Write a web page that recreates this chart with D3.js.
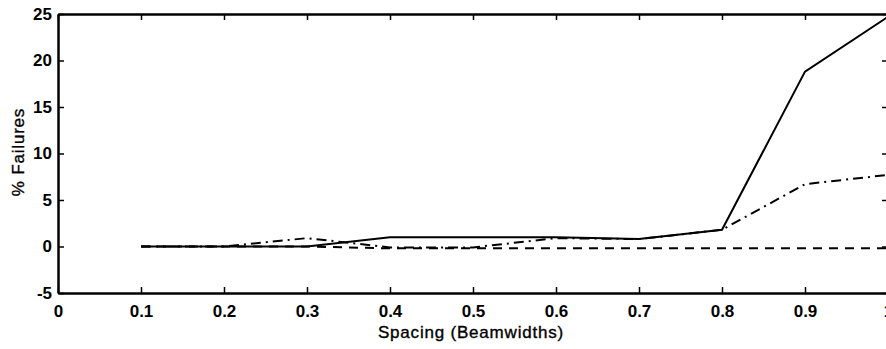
<!DOCTYPE html>
<html>
<head>
<meta charset="utf-8">
<script src="https://cdn.jsdelivr.net/npm/d3@7"></script>
<style>
  body { margin: 0; background: #fff; }
  svg { display: block; }
  .tick text { font-family: "Liberation Sans", Arial, sans-serif; font-weight: bold; font-size: 17px; fill: #000; }
  .title { font-family: "Liberation Sans", Arial, sans-serif; font-size: 17px; letter-spacing: 0.8px; fill: #000; stroke: #000; stroke-width: 0.35px; }
</style>
</head>
<body>
<div id="chart"></div>
<script>
// spacing in beamwidths
const spacing = [0.1, 0.2, 0.3, 0.4, 0.5, 0.6, 0.7, 0.8, 0.9, 1.0];
// % failures, one list per curve
const solidValues = [0, 0, 0, 1, 1, 1, 0.8, 1.8, 18.8, 24.7];
const dashDotValues = [0, 0, 0.9, -0.1, -0.1, 0.9, 0.8, 1.8, 6.7, 7.7];
const dashedValues = [0, 0, 0, -0.2, -0.2, -0.2, -0.2, -0.2, -0.2, -0.2];
const xTicks = [0, 0.1, 0.2, 0.3, 0.4, 0.5, 0.6, 0.7, 0.8, 0.9, 1];
const yTicks = [-5, 0, 5, 10, 15, 20, 25];

const W = 886, H = 349;
const margin = {top: 14, right: -2, bottom: 56, left: 58};
const width = W - margin.left - margin.right;
const height = H - margin.top - margin.bottom;

const svg = d3.select('#chart').append('svg')
  .attr('width', W)
  .attr('height', H);

const chart = svg.append('g')
  .attr('transform', `translate(${margin.left},${margin.top})`);

const x = d3.scaleLinear().domain([0, 1]).range([0, width]);
const y = d3.scaleLinear().domain([-5, 25]).range([height, 0]);

// axes, ticks pointing inward like matlab
const fmt = d => d === 0 ? '0' : String(d);
chart.append('g')
  .attr('transform', `translate(0,${height})`)
  .call(d3.axisBottom(x).tickValues(xTicks).tickFormat(fmt).tickSizeInner(-6).tickSizeOuter(0).tickPadding(12));
chart.append('g')
  .call(d3.axisTop(x).tickValues(xTicks).tickFormat('').tickSizeInner(-6).tickSizeOuter(0));
chart.append('g')
  .call(d3.axisLeft(y).tickValues(yTicks).tickFormat(fmt).tickSizeInner(-6).tickSizeOuter(0).tickPadding(6));
chart.append('g')
  .attr('transform', `translate(${width},0)`)
  .call(d3.axisRight(y).tickValues(yTicks).tickFormat('').tickSizeInner(-6).tickSizeOuter(0));

chart.selectAll('.domain').attr('stroke', '#000').attr('stroke-width', 2.5);
chart.selectAll('.tick line').attr('stroke', '#000').attr('stroke-width', 1.5);

const line = vals => d3.line()
  .x((d, i) => x(spacing[i]))
  .y(d => y(d))(vals);

chart.append('path')
  .attr('d', line(dashedValues))
  .attr('fill', 'none').attr('stroke', '#000').attr('stroke-width', 2)
  .attr('stroke-dasharray', '9,7');

chart.append('path')
  .attr('d', line(dashDotValues))
  .attr('fill', 'none').attr('stroke', '#000').attr('stroke-width', 2)
  .attr('stroke-dasharray', '10,5,2,5');

chart.append('path')
  .attr('d', line(solidValues))
  .attr('fill', 'none').attr('stroke', '#000').attr('stroke-width', 2);

// axis labels
svg.append('text')
  .attr('class', 'title')
  .attr('x', 471)
  .attr('y', 338)
  .attr('text-anchor', 'middle')
  .text('Spacing (Beamwidths)');

svg.append('text')
  .attr('class', 'title')
  .attr('transform', 'translate(24,152) rotate(-90)')
  .attr('text-anchor', 'middle')
  .text('% Failures');
</script>
</body>
</html>
